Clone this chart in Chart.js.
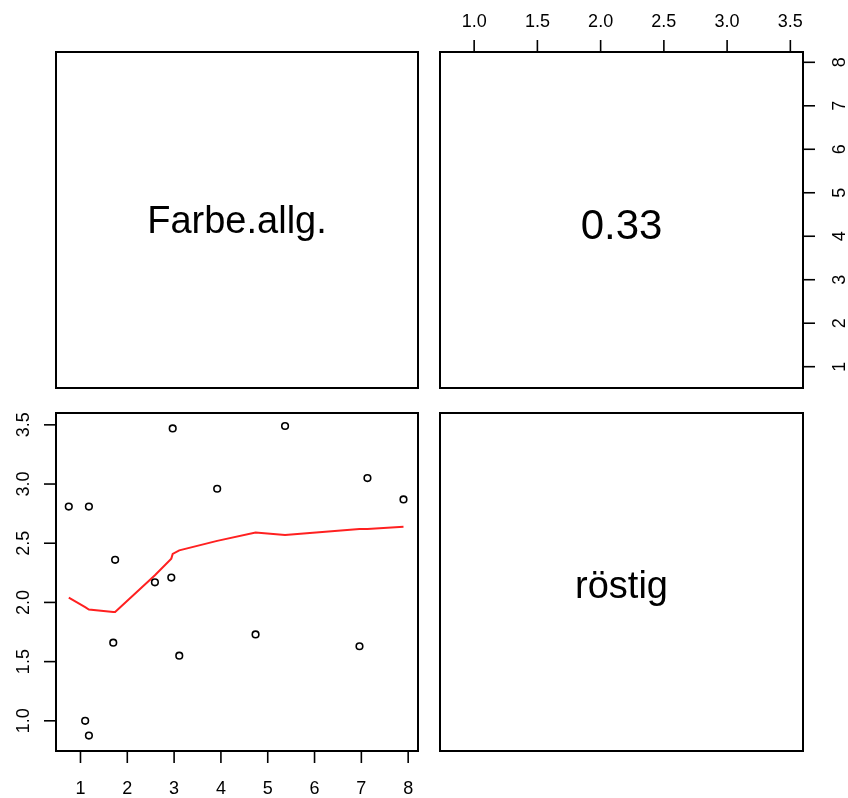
<!DOCTYPE html>
<html>
<head>
<meta charset="utf-8">
<title>pairs: Farbe.allg. / röstig</title>
<script src="https://cdn.jsdelivr.net/npm/chart.js@4.4.1/dist/chart.umd.min.js"></script>
<style>
  body { margin: 0; background: #fff; }
  #wrap { position: relative; width: 848px; height: 798px; }
  #wrap canvas { position: absolute; left: 0; top: 0; }
</style>
</head>
<body>
<div id="wrap">
  <canvas id="p11" width="848" height="798"></canvas>
  <canvas id="p12" width="848" height="798"></canvas>
  <canvas id="p21" width="848" height="798"></canvas>
  <canvas id="p22" width="848" height="798"></canvas>
</div>
<script>
// variablen
const varNames = ['Farbe.allg.', 'röstig']
const farbeAllg = [0.75, 1.18, 1.10, 1.18, 1.74, 1.70, 2.59, 2.94, 2.97, 3.11, 3.92, 4.74, 5.37, 6.96, 7.13, 7.90]
const roestig   = [2.81, 2.81, 1.00, 0.875, 2.36, 1.66, 2.17, 2.21, 3.47, 1.55, 2.96, 1.73, 3.49, 1.63, 3.05, 2.87]
// lowess-glaettung (rot)
const smoothX = [0.75, 1.10, 1.18, 1.18, 1.70, 1.74, 2.59, 2.94, 2.97, 3.11, 3.92, 4.74, 5.37, 6.96, 7.13, 7.90]
const smoothY = [2.04, 1.96, 1.94, 1.94, 1.92, 1.92, 2.23, 2.37, 2.41, 2.44, 2.52, 2.59, 2.57, 2.62, 2.62, 2.64]
const korrelation = '0.33'
// achsen-ticks
const farbeTicks = [1, 2, 3, 4, 5, 6, 7, 8]
const roestigTicks = [1.0, 1.5, 2.0, 2.5, 3.0, 3.5]

const tickFont = '18px "Liberation Sans", Arial, sans-serif'
// abstand tick-beschriftung zum rahmen
const labelGap = { bottom: 38, top: 30, left: 32, right: 37 }

// rahmen, ticks und text im stil von R zeichnen
const rPanel = {
  id: 'rPanel',
  afterDraw(chart, args, opts) {
    const ctx = chart.ctx
    const a = chart.chartArea
    const xs = chart.scales.x
    const ys = chart.scales.y
    ctx.save()
    ctx.strokeStyle = '#000'
    ctx.fillStyle = '#000'
    ctx.lineWidth = 2
    ctx.strokeRect(a.left, a.top, a.right - a.left, a.bottom - a.top)
    ctx.lineWidth = 1.6
    ctx.font = tickFont
    ctx.textAlign = 'center'
    ctx.textBaseline = 'middle'
    ;(opts.axes || []).forEach(ax => {
      const gap = labelGap[ax.side]
      ax.ticks.forEach(v => {
        const txt = ax.digits ? v.toFixed(ax.digits) : String(v)
        if (ax.side === 'bottom' || ax.side === 'top') {
          const px = xs.getPixelForValue(v)
          const y0 = ax.side === 'bottom' ? a.bottom : a.top
          const dir = ax.side === 'bottom' ? 1 : -1
          ctx.beginPath(); ctx.moveTo(px, y0); ctx.lineTo(px, y0 + dir * 12); ctx.stroke()
          ctx.fillText(txt, px, y0 + dir * gap)
        } else {
          const py = ys.getPixelForValue(v)
          const x0 = ax.side === 'left' ? a.left : a.right
          const dir = ax.side === 'left' ? -1 : 1
          ctx.beginPath(); ctx.moveTo(x0, py); ctx.lineTo(x0 + dir * 12, py); ctx.stroke()
          ctx.save()
          ctx.translate(x0 + dir * gap, py)
          ctx.rotate(-Math.PI / 2)
          ctx.fillText(txt, 0, 0)
          ctx.restore()
        }
      })
    })
    if (opts.label) {
      ctx.font = opts.labelSize + 'px "Liberation Sans", Arial, sans-serif'
      ctx.textBaseline = 'alphabetic'
      ctx.fillText(opts.label, (a.left + a.right) / 2, (a.top + a.bottom) / 2 + opts.baseline)
    }
    ctx.restore()
  }
}

function panel(id, box, xr, yr, datasets, panelOpts) {
  return new Chart(document.getElementById(id), {
    type: 'scatter',
    data: { datasets },
    options: {
      responsive: false,
      animation: false,
      devicePixelRatio: 1,
      layout: { padding: { left: box[0], top: box[1], right: 848 - box[2], bottom: 798 - box[3] } },
      scales: {
        x: { type: 'linear', display: false, min: xr[0], max: xr[1] },
        y: { type: 'linear', display: false, min: yr[0], max: yr[1] }
      },
      plugins: { legend: { display: false }, tooltip: { enabled: false }, rPanel: panelOpts }
    },
    plugins: [rPanel]
  })
}

// oben links: variablenname
panel('p11', [56, 52, 418, 388], [0, 1], [0, 1], [], { label: varNames[0], labelSize: 38, baseline: 12.5 })

// oben rechts: korrelation, achsen oben und rechts
panel('p12', [440, 52, 803, 388], [0.73, 3.60], [0.51, 8.237], [], {
  label: korrelation, labelSize: 42, baseline: 19,
  axes: [
    { side: 'top', ticks: roestigTicks, digits: 1 },
    { side: 'right', ticks: farbeTicks }
  ]
})

// unten links: streudiagramm mit glaettung
panel('p21', [56, 413, 418, 751], [0.477, 8.21], [0.745, 3.60], [
  {
    data: farbeAllg.map((x, i) => ({ x, y: roestig[i] })),
    pointStyle: 'circle',
    pointRadius: 3.3,
    pointBorderWidth: 1.6,
    pointBorderColor: '#000',
    pointBackgroundColor: 'rgba(0,0,0,0)'
  },
  {
    data: smoothX.map((x, i) => ({ x, y: smoothY[i] })),
    showLine: true,
    borderColor: '#ff2020',
    borderWidth: 2,
    pointRadius: 0,
    tension: 0
  }
], {
  axes: [
    { side: 'bottom', ticks: farbeTicks },
    { side: 'left', ticks: roestigTicks, digits: 1 }
  ]
})

// unten rechts: variablenname
panel('p22', [440, 413, 803, 751], [0, 1], [0, 1], [], { label: varNames[1], labelSize: 38, baseline: 16 })
</script>
</body>
</html>
